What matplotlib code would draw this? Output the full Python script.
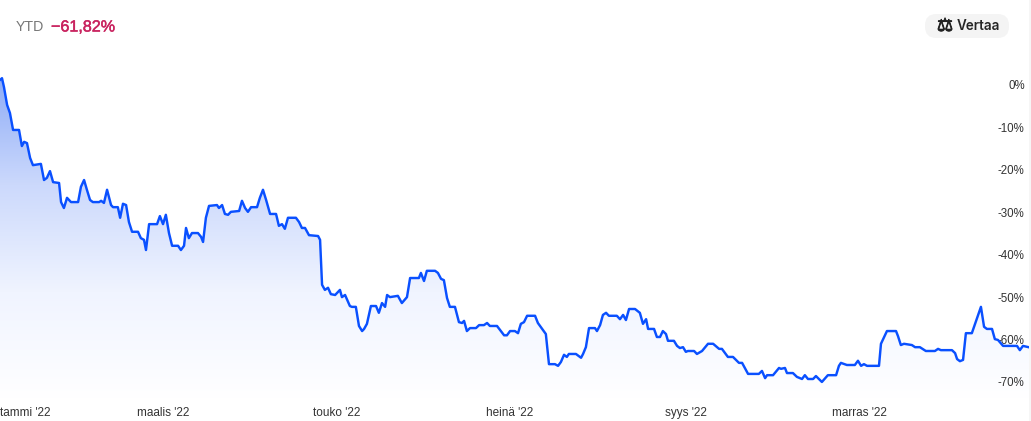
import numpy as np
import matplotlib
matplotlib.use("Agg")
import matplotlib.pyplot as plt
import matplotlib.patheffects as pe
from matplotlib.colors import LinearSegmentedColormap
from matplotlib.patches import FancyBboxPatch, Rectangle

W, H = 1031, 421

# day of year 2022
days = [
 1.4,2.1,2.8,3.9,4.9,6.0,8.1,9.1,9.9,10.9,
 12.0,13.0,15.8,16.9,17.9,19.0,20.1,22.2,22.9,23.9,
 25.0,26.4,28.9,29.9,31.0,32.0,33.1,34.1,36.3,37.0,
 38.0,39.1,40.5,41.2,42.9,43.7,44.7,45.8,46.8,47.9,
 50.0,51.0,52.1,52.8,53.9,56.7,57.7,58.8,59.8,60.9,
 62.0,64.1,65.1,66.2,66.9,67.9,69.0,71.1,72.2,72.9,
 73.9,75.0,77.8,78.5,79.6,80.6,81.7,82.7,85.6,86.6,
 87.7,88.7,89.8,91.9,92.9,94.0,95.1,96.5,98.6,99.6,
 100.7,101.7,102.8,105.6,106.7,107.7,108.8,110.2,113.4,114.1,
 114.8,115.8,116.9,117.9,119.4,121.1,121.8,122.9,124.6,125.3,
 126.7,127.8,128.9,129.6,130.6,132.0,133.8,134.8,135.9,137.0,
 137.7,138.7,141.5,142.9,144.7,145.8,148.9,149.6,150.7,151.7,
 154.6,155.6,156.7,157.7,158.8,159.8,161.6,163.0,164.1,164.8,
 165.8,166.9,169.0,170.1,171.8,172.9,173.9,176.4,178.9,179.9,
 181.0,182.7,183.8,184.8,185.9,187.0,189.8,190.8,193.6,194.7,
 196.8,197.9,198.9,200.0,201.0,201.7,204.2,206.0,206.7,207.7,
 208.8,210.9,211.6,212.7,213.7,214.8,215.8,218.6,219.7,220.8,
 221.8,222.9,225.0,226.7,227.8,228.9,229.6,231.7,232.7,233.8,
 234.8,235.9,236.6,238.7,239.8,240.8,241.9,242.9,243.6,245.8,
 246.8,248.6,250.7,252.5,254.6,255.6,257.7,259.5,261.6,262.7,
 264.8,268.6,269.7,270.8,271.5,273.6,275.7,276.4,277.8,278.5,
 280.6,282.0,283.8,284.8,285.9,287.7,288.7,290.8,292.9,295.8,
 296.8,297.5,299.6,302.4,303.5,304.6,305.6,306.7,309.1,310.9,
 311.6,313.7,316.9,317.6,318.6,319.7,322.5,323.6,325.3,327.4,
 330.6,331.7,332.7,336.6,337.7,338.4,339.4,340.5,341.5,343.6,
 346.8,347.9,348.9,350.7,351.7,352.8,354.6,359.5,360.5,361.6,
 363.7,
]
returns_pct = [
 1.2,1.6,-0.5,-4.7,-6.6,-10.6,-10.6,-14.4,-13.4,-13.7,
 -17.2,-18.9,-18.6,-22.4,-21.9,-20.3,-22.9,-23.1,-27.6,-29.0,
 -26.6,-27.6,-27.6,-24.0,-22.4,-24.7,-27.1,-27.6,-27.6,-27.3,
 -27.8,-24.7,-28.3,-28.8,-28.8,-31.3,-28.0,-28.3,-32.3,-34.6,
 -34.6,-36.1,-36.5,-38.9,-32.8,-32.8,-30.9,-32.8,-30.6,-34.9,
 -37.9,-37.9,-38.9,-37.9,-33.7,-36.1,-34.9,-34.9,-35.8,-37.0,
 -31.3,-28.5,-28.3,-29.0,-28.3,-30.4,-30.6,-29.9,-29.7,-27.3,
 -29.0,-29.9,-28.8,-28.8,-26.6,-24.7,-27.1,-30.4,-30.4,-33.2,
 -32.8,-33.9,-31.3,-31.3,-32.3,-33.7,-33.7,-35.4,-35.6,-36.5,
 -47.1,-48.3,-47.8,-49.3,-49.5,-48.3,-50.0,-49.5,-52.1,-52.3,
 -52.3,-56.8,-58.0,-57.5,-56.3,-52.1,-52.1,-53.7,-51.4,-52.3,
 -49.5,-50.0,-49.7,-51.4,-50.0,-45.5,-45.5,-44.3,-46.2,-43.8,
 -43.8,-44.3,-45.7,-46.0,-50.2,-52.3,-52.3,-55.9,-56.1,-55.6,
 -58.0,-57.3,-57.3,-56.6,-56.6,-56.1,-56.8,-56.8,-59.0,-59.0,
 -58.0,-58.0,-58.5,-56.3,-55.9,-54.4,-54.4,-56.1,-58.7,-65.8,
 -65.8,-66.2,-65.3,-63.6,-64.1,-63.4,-63.4,-64.3,-63.4,-61.8,
 -57.3,-57.3,-58.0,-56.6,-54.2,-53.7,-54.4,-54.4,-55.2,-54.2,
 -55.4,-52.8,-52.8,-53.7,-56.3,-55.2,-57.5,-57.5,-59.4,-59.4,
 -58.0,-58.7,-60.3,-60.3,-61.5,-62.0,-61.8,-62.9,-62.7,-62.7,
 -63.4,-62.7,-61.0,-61.0,-62.2,-62.2,-64.1,-64.1,-65.5,-65.5,
 -68.1,-68.1,-67.4,-69.1,-68.4,-68.4,-66.7,-66.9,-66.7,-67.9,
 -67.9,-68.8,-69.3,-68.4,-69.3,-69.3,-68.6,-70.0,-68.4,-68.4,
 -66.2,-65.5,-66.0,-66.0,-65.0,-66.2,-65.8,-66.2,-66.2,-66.2,
 -61.0,-58.0,-58.0,-59.2,-61.3,-61.0,-61.3,-61.8,-61.8,-62.7,
 -62.7,-62.2,-62.5,-62.5,-63.2,-64.6,-65.1,-64.8,-58.5,-58.5,
 -52.3,-57.0,-57.5,-57.5,-59.9,-60.1,-61.5,-61.5,-62.5,-61.5,
 -61.82,
]
y_ticks = [0, -10, -20, -30, -40, -50, -60, -70]
y_labels = ["0%", "-10%", "-20%", "-30%", "-40%", "-50%", "-60%", "-70%"]
x_ticks = [1.4, 59, 120, 181, 243, 304]
x_labels = ["tammi '22", "maalis '22", "touko '22", "heinä '22", "syys '22", "marras '22"]

plt.rcParams["font.family"] = ["Liberation Sans", "DejaVu Sans"]
fig = plt.figure(figsize=(W / 100, H / 100), dpi=100, facecolor="white")
ax = fig.add_axes([0, 0, 1, 1])
ax.set_xlim(1.4, 1.4 + W / 2.84)
ax.set_ylim(-79.2, 20.03)
for s in ax.spines.values():
    s.set_visible(False)

# gradient area below the line
cmap = LinearSegmentedColormap.from_list("g", ["#8fadf7", "#ccd9fc", "#f0f4ff", "#ffffff"])
poly = ax.fill_between(days, returns_pct, -79.2, color="none", lw=0)
grad = np.linspace(0, 1, 256).reshape(-1, 1)
im = ax.imshow(grad, extent=[1.4, 365, -74, 1.6], origin="upper", aspect="auto",
               cmap=cmap, zorder=1)
for p in poly.get_paths():
    im.set_clip_path(p, transform=ax.transData)
ax.set_xlim(1.4, 1.4 + W / 2.84)
ax.set_ylim(-79.2, 20.03)

ax.plot(days, returns_pct, color="#0a50ff", lw=1.75, zorder=3, solid_joinstyle="round")

ax.yaxis.tick_right()
ax.set_yticks(y_ticks, y_labels)
ax.set_xticks(x_ticks, x_labels)
ax.tick_params(axis="y", length=0, pad=-4.5, labelsize=8.3, labelcolor="#333333")
ax.tick_params(axis="x", length=0, pad=-10.0, labelsize=8.5, labelcolor="#333333")
for t in ax.get_yticklabels():
    t.set_ha("right")
ax.get_xticklabels()[0].set_ha("left")
for t in ax.get_xticklabels():
    t.set_zorder(5)

def px(x, y):
    return x / W, 1 - y / H

fig.text(*px(16, 27), "YTD", fontsize=10.2, color="#777777", va="center", ha="left")
val = fig.text(*px(51, 27), "−61,82%", fontsize=11.6, color="#c9235f", va="center", ha="left")
val.set_path_effects([pe.withStroke(linewidth=0.35, foreground="#c9235f")])

pill = FancyBboxPatch((925 / W, 1 - 38 / H), 84 / W, 24 / H, transform=fig.transFigure,
                      boxstyle="round,pad=0,rounding_size=0.011", mutation_aspect=W / H,
                      fc="#f4f4f4", ec="none")
fig.add_artist(pill)
icon = fig.text(*px(945, 26), "⚖", fontsize=13, color="#222222", va="center", ha="center",
                fontfamily="DejaVu Sans")
icon.set_path_effects([pe.withStroke(linewidth=0.7, foreground="#222222")])
fig.text(*px(957, 26.5), "Vertaa", fontsize=9.7, color="#262626", va="center", ha="left",
         fontfamily="Inter", fontweight="semibold")

fig.add_artist(Rectangle((1029 / W, 0), 2 / W, 1, transform=fig.transFigure, fc="#f6f6f6", ec="none"))

fig.savefig("out.png", dpi=100)
